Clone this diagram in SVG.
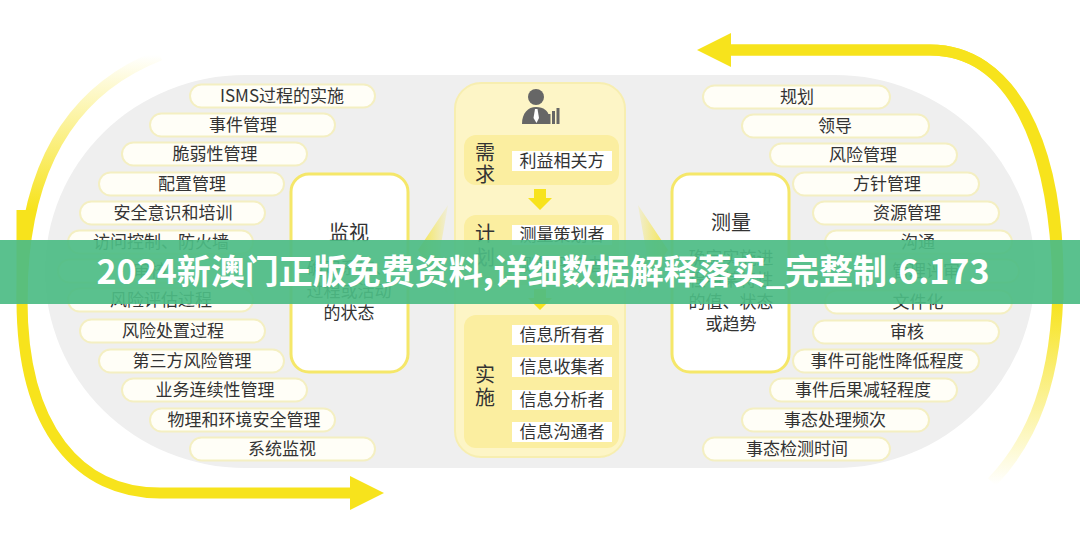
<svg xmlns="http://www.w3.org/2000/svg" width="1080" height="544" viewBox="0 0 1080 544">
<style>
text{font-family:"Noto Sans CJK SC","Noto Sans",sans-serif;fill:#333;}
.pill rect{fill:#fffef7;stroke:#f4efc2;stroke-width:2;}
.pill text{font-size:17px;text-anchor:middle;}
.lab rect{fill:#fff;}
.lab text{font-size:17px;text-anchor:middle;}
.big{font-size:20px;text-anchor:middle;}
.desc{font-size:17px;text-anchor:middle;}
.sec{fill:#fbeea0;}
</style>
<defs>
<linearGradient id="gTop" gradientUnits="userSpaceOnUse" x1="0" y1="300" x2="0" y2="485">
<stop offset="0" stop-color="#f7e31c" stop-opacity="1"/>
<stop offset="1" stop-color="#f7e31c" stop-opacity="0"/>
</linearGradient>
<linearGradient id="gBot" gradientUnits="userSpaceOnUse" x1="0" y1="55" x2="0" y2="210">
<stop offset="0" stop-color="#f7e31c" stop-opacity="0"/>
<stop offset="1" stop-color="#f7e31c" stop-opacity="1"/>
</linearGradient>
<linearGradient id="gL" gradientUnits="userSpaceOnUse" x1="418" y1="0" x2="452" y2="0">
<stop offset="0" stop-color="#f7e31c" stop-opacity="0.8"/>
<stop offset="1" stop-color="#f7e31c" stop-opacity="0"/>
</linearGradient>
<linearGradient id="gR" gradientUnits="userSpaceOnUse" x1="668" y1="0" x2="632" y2="0">
<stop offset="0" stop-color="#f7e31c" stop-opacity="0.8"/>
<stop offset="1" stop-color="#f7e31c" stop-opacity="0"/>
</linearGradient>
</defs>
<rect width="1080" height="544" fill="#ffffff"/>
<rect x="45" y="75" width="990" height="393" rx="200" ry="200" fill="#efefef"/>

<g id="connectors">
<path d="M730,50 L930,50 C1010,50 1058,140 1058,280 C1058,380 1032,440 992,482" fill="none" stroke="url(#gTop)" stroke-width="11"/>
<path d="M730,50 L930,50 C1010,50 1058,140 1058,300" fill="none" stroke="#f7e31c" stroke-width="11"/>
<polygon points="697,50 731,33 731,67" fill="#f7e31c"/>
<path d="M160,55 C70,90 22,170 22,300" fill="none" stroke="url(#gBot)" stroke-width="11"/>
<path d="M22,210 L22,300 C22,430 80,493 160,493 L352,493" fill="none" stroke="#f7e31c" stroke-width="11"/>
<polygon points="384,493 350,476 350,510" fill="#f7e31c"/>
<polygon points="418,250 448,205 440,250 448,295" fill="url(#gL)"/>
<polygon points="668,250 638,205 646,250 638,295" fill="url(#gR)"/>
</g>

<g id="left-items">
<g class="pill"><rect x="190" y="84.5" width="185" height="23" rx="11.5"/><text x="282" y="102">ISMS过程的实施</text></g>
<g class="pill"><rect x="150" y="113.5" width="185" height="23" rx="11.5"/><text x="243" y="131">事件管理</text></g>
<g class="pill"><rect x="122" y="142.5" width="185" height="23" rx="11.5"/><text x="215" y="160">脆弱性管理</text></g>
<g class="pill"><rect x="99" y="172.5" width="185" height="23" rx="11.5"/><text x="192" y="190">配置管理</text></g>
<g class="pill"><rect x="80" y="201.5" width="185" height="23" rx="11.5"/><text x="173" y="219">安全意识和培训</text></g>
<g class="pill"><rect x="68" y="230.5" width="185" height="23" rx="11.5"/><text x="161" y="248">访问控制、防火墙</text></g>
<g class="pill"><rect x="58" y="259.5" width="185" height="23" rx="11.5"/><text x="150" y="277">审核</text></g>
<g class="pill"><rect x="68" y="288.5" width="185" height="23" rx="11.5"/><text x="161" y="306">风险评估过程</text></g>
<g class="pill"><rect x="80" y="319.5" width="185" height="23" rx="11.5"/><text x="173" y="337">风险处置过程</text></g>
<g class="pill"><rect x="99" y="349.5" width="185" height="23" rx="11.5"/><text x="192" y="367">第三方风险管理</text></g>
<g class="pill"><rect x="122" y="378.5" width="185" height="23" rx="11.5"/><text x="215" y="396">业务连续性管理</text></g>
<g class="pill"><rect x="150" y="408.5" width="185" height="23" rx="11.5"/><text x="244" y="426">物理和环境安全管理</text></g>
<g class="pill"><rect x="190" y="437.5" width="185" height="23" rx="11.5"/><text x="282" y="455">系统监视</text></g>
</g>

<g id="right-items">
<g class="pill"><rect x="703" y="85.5" width="187" height="23" rx="11.5"/><text x="797" y="103">规划</text></g>
<g class="pill"><rect x="742" y="114.5" width="187" height="23" rx="11.5"/><text x="835" y="132">领导</text></g>
<g class="pill"><rect x="770" y="143.5" width="187" height="23" rx="11.5"/><text x="863" y="161">风险管理</text></g>
<g class="pill"><rect x="793" y="172.5" width="186" height="23" rx="11.5"/><text x="887" y="190">方针管理</text></g>
<g class="pill"><rect x="813" y="201.5" width="186" height="23" rx="11.5"/><text x="907" y="219">资源管理</text></g>
<g class="pill"><rect x="825" y="230.5" width="187" height="23" rx="11.5"/><text x="918" y="248">沟通</text></g>
<g class="pill"><rect x="832" y="259.5" width="187" height="23" rx="11.5"/><text x="926" y="277">管理评审</text></g>
<g class="pill"><rect x="825" y="290.5" width="187" height="23" rx="11.5"/><text x="918" y="308">文件化</text></g>
<g class="pill"><rect x="813" y="320.5" width="186" height="23" rx="11.5"/><text x="907" y="338">审核</text></g>
<g class="pill"><rect x="793" y="349.5" width="186" height="23" rx="11.5"/><text x="887" y="367">事件可能性降低程度</text></g>
<g class="pill"><rect x="770" y="378.5" width="187" height="23" rx="11.5"/><text x="863" y="396">事件后果减轻程度</text></g>
<g class="pill"><rect x="742" y="408.5" width="187" height="23" rx="11.5"/><text x="835" y="426">事态处理频次</text></g>
<g class="pill"><rect x="703" y="437.5" width="187" height="23" rx="11.5"/><text x="797" y="455">事态检测时间</text></g>
</g>

<g id="monitor">
<rect x="291" y="174" width="117" height="198" rx="18" fill="#fff" stroke="#f5e769" stroke-width="3"/>
<text class="big" x="349" y="240">监视</text>
<text class="desc" x="349" y="274">确定系统、</text>
<text class="desc" x="349" y="297">过程或活动</text>
<text class="desc" x="349" y="319">的状态</text>
</g>

<g id="measure">
<rect x="672" y="174" width="117" height="198" rx="18" fill="#fff" stroke="#f5e769" stroke-width="3"/>
<text class="big" x="731" y="230">测量</text>
<text class="desc" x="731" y="264">确定实施进</text>
<text class="desc" x="731" y="286">程中某特性</text>
<text class="desc" x="731" y="308">的值、状态</text>
<text class="desc" x="731" y="330">或趋势</text>
</g>

<g id="center">
<rect x="455" y="83" width="170" height="374" rx="26" fill="#fdf5c6" stroke="#f7eeb0" stroke-width="2"/>
<g id="icon" fill="#666">
<circle cx="536" cy="97" r="8"/>
<path d="M522,124 C522,113 528,107 536,107 C544,107 548,111 549,116 L549,124 Z"/>
<path d="M535,109 L537.5,109 L539,118 L536.5,123 L533.5,118 Z" fill="#fff"/>
<rect x="543" y="117" width="3" height="7"/>
<rect x="547.5" y="114" width="3" height="10"/>
<rect x="552" y="111" width="3" height="13"/>
<rect x="556.5" y="108" width="3" height="16"/>
</g>
<g id="demand">
<rect class="sec" x="464" y="135" width="155" height="50" rx="12"/>
<text class="big" x="485" y="160">需</text>
<text class="big" x="485" y="182">求</text>
<g class="lab"><rect x="512" y="151" width="100" height="20"/><text x="562" y="167">利益相关方</text></g>
</g>
<polygon points="534,189 546,189 546,198 552,198 540,210 528,198 534,198" fill="#f7e31c"/>
<g id="plan">
<rect class="sec" x="464" y="215" width="155" height="70" rx="12"/>
<text class="big" x="485" y="241">计</text>
<text class="big" x="485" y="265">划</text>
<g class="lab"><rect x="512" y="225" width="100" height="20"/><text x="562" y="241">测量策划者</text></g>
<g class="lab"><rect x="512" y="255" width="100" height="20"/><text x="562" y="271">测量评审者</text></g>
</g>
<polygon points="534,289 546,289 546,298 552,298 540,310 528,298 534,298" fill="#f7e31c"/>
<g id="do">
<rect class="sec" x="464" y="315" width="155" height="133" rx="12"/>
<text class="big" x="485" y="382">实</text>
<text class="big" x="485" y="405">施</text>
<g class="lab"><rect x="512" y="325" width="100" height="20"/><text x="562" y="341">信息所有者</text></g>
<g class="lab"><rect x="512" y="357" width="100" height="20"/><text x="562" y="373">信息收集者</text></g>
<g class="lab"><rect x="512" y="390" width="100" height="20"/><text x="562" y="406">信息分析者</text></g>
<g class="lab"><rect x="512" y="422" width="100" height="20"/><text x="562" y="438">信息沟通者</text></g>
</g>
</g>

<g id="banner">
<rect x="0" y="240" width="1080" height="64" fill="#4cbc84" fill-opacity="0.92"/>
<text x="543" y="284" style="font-size:34px;font-weight:bold;fill:#fff;text-anchor:middle;">2024新澳门正版免费资料,详细数据解释落实_完整制.6.173</text>
</g>
</svg>
